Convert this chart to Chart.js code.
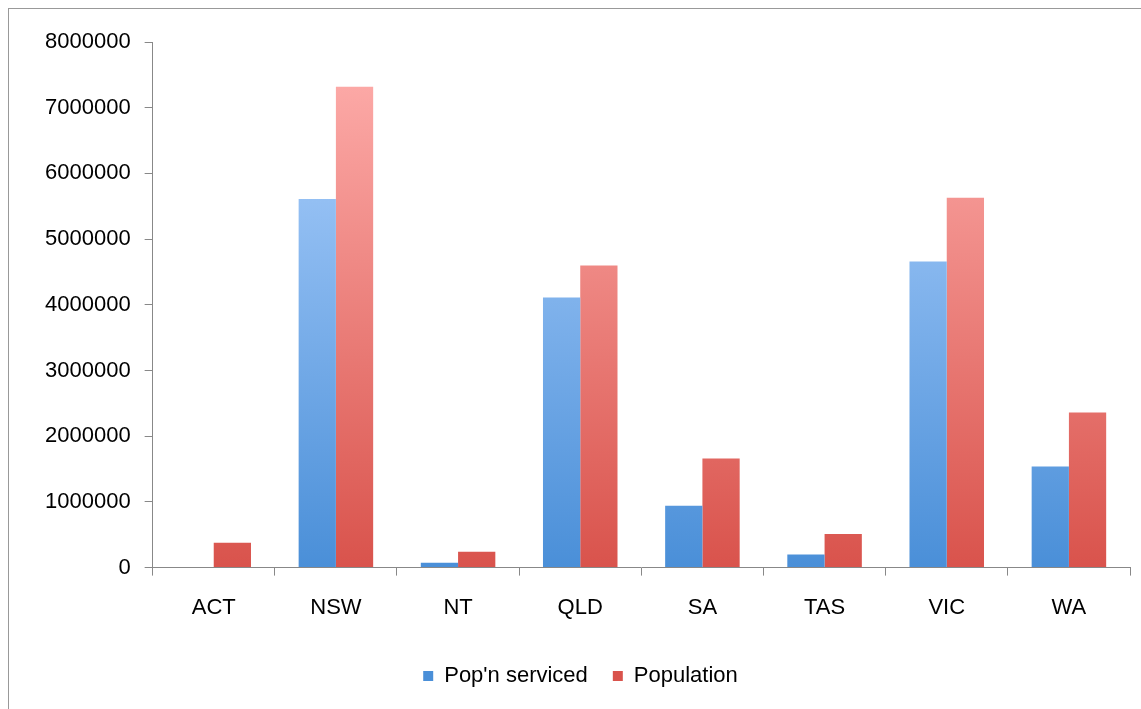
<!DOCTYPE html>
<html>
<head>
<meta charset="utf-8">
<script src="https://cdn.jsdelivr.net/npm/chart.js@4/dist/chart.umd.min.js"></script>
<style>
body { margin: 0; background: #fff; }
#wrap { position: absolute; left: 8px; top: 8px; width: 1140px; height: 708px; border: 1px solid #999; border-right: none; border-bottom: none; box-sizing: border-box; }
</style>
</head>
<body>
<div id="wrap"><canvas id="chart"></canvas></div>
<script>
let states = ['ACT', 'NSW', 'NT', 'QLD', 'SA', 'TAS', 'VIC', 'WA'];
let popServiced = [0, 5610000, 75000, 4110000, 940000, 200000, 4660000, 1540000];
let population = [380000, 7320000, 240000, 4600000, 1660000, 510000, 5630000, 2360000];

function grad(top, bottom) {
	return function (c) {
		let area = c.chart.chartArea;
		if (!area) return top;
		let g = c.chart.ctx.createLinearGradient(0, area.top, 0, area.bottom);
		g.addColorStop(0, top);
		g.addColorStop(1, bottom);
		return g;
	};
}

let font = { family: 'Liberation Sans, Arial', size: 22 };
let ctx = document.getElementById('chart').getContext('2d');
ctx.canvas.parentNode.style.width = '1133px';
new Chart(ctx, {
	type: 'bar',
	data: {
		labels: states,
		datasets: [
			{ label: "Pop'n serviced", data: popServiced, backgroundColor: grad('#b3d4ff', '#4a8fd8') },
			{ label: 'Population', data: population, backgroundColor: grad('#ffb0ae', '#d9534c') }
		]
	},
	options: {
		responsive: true,
		maintainAspectRatio: false,
		animation: false,
		layout: { padding: { left: 22, right: 11, top: 33, bottom: 19 } },
		datasets: { bar: { categoryPercentage: 0.61, barPercentage: 1 } },
		plugins: {
			tooltip: { enabled: false },
			legend: {
				position: 'bottom',
				labels: { boxWidth: 10, boxHeight: 10, padding: 25, color: '#000', font: font }
			}
		},
		scales: {
			x: {
				grid: { display: true, drawOnChartArea: false, offset: true, tickLength: 8, color: '#888' },
				border: { color: '#888' },
				ticks: { color: '#000', padding: 19, font: font }
			},
			y: {
				min: 0, max: 8000000,
				grid: { drawOnChartArea: false, tickLength: 8, color: '#888' },
				border: { color: '#888' },
				ticks: { stepSize: 1000000, color: '#000', padding: 14, callback: v => String(v), font: font }
			}
		}
	}
});
</script>
</body>
</html>
